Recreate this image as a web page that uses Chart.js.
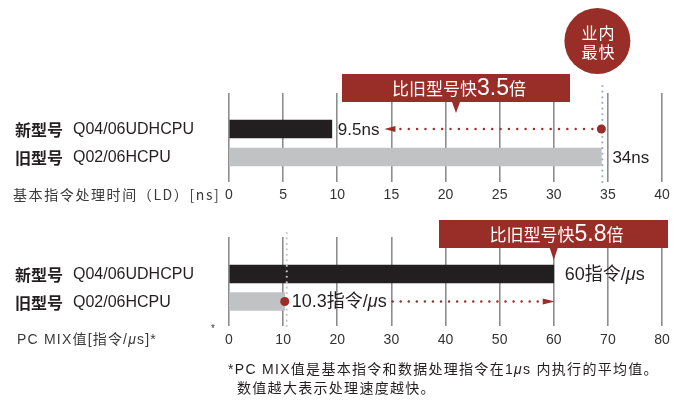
<!DOCTYPE html>
<html>
<head>
<meta charset="utf-8">
<script src="https://cdn.jsdelivr.net/npm/chart.js@4/dist/chart.umd.min.js"></script>
<style>
html, body { margin: 0; padding: 0; background: #fff; }
#wrap { position: relative; width: 677px; height: 400px; overflow: hidden; }
canvas { position: absolute; left: 0; }
</style>
</head>
<body>
<div id="wrap">
    <canvas id="ldChart" width="677" height="212" style="top:0"></canvas>
    <canvas id="mixChart" width="677" height="188" style="top:212px"></canvas>
</div>
<script>
// data
const rowTypes = ['新型号', '旧型号'];
const rowModels = ['Q04/06UDHCPU', 'Q02/06HCPU'];

const ldValues = [9.5, 34.4];
const ldValueLabels = ['9.5ns', '34ns'];
const ldTitle = '基本指令处理时间（LD）[ns]';
const ldRatio = '3.5';

const mixValues = [60, 10.3];
const mixValueLabels = ['60指令/', '10.3指令/'];
const mixRatio = '5.8';

const LAT = '"Liberation Sans", "Noto Sans CJK SC", sans-serif';
const CJK = '"Noto Sans CJK SC", sans-serif';
const RED = '#982e27';
const BAR_COLORS = ['#231f20', '#c1c2c4'];

Chart.defaults.font.family = LAT;

function dots(ctx, x1, y1, x2, y2, gap, r, color) {
    const len = Math.hypot(x2 - x1, y2 - y1);
    const n = Math.max(1, Math.round(len / gap));
    ctx.fillStyle = color;
    for (let i = 0; i <= n; i++) {
        const t = i / n;
        ctx.beginPath();
        ctx.arc(x1 + (x2 - x1) * t, y1 + (y2 - y1) * t, r, 0, Math.PI * 2);
        ctx.fill();
    }
}

function rich(ctx, parts, x, y, align) {
    let w = 0;
    parts.forEach(p => { ctx.font = p[1]; w += ctx.measureText(p[0]).width; });
    let cx = align === 'center' ? x - w / 2 : x;
    ctx.textAlign = 'left';
    parts.forEach(p => {
        ctx.font = p[1];
        ctx.fillText(p[0], cx, y);
        cx += ctx.measureText(p[0]).width;
    });
    return cx;
}

function banner(ctx, x1, x2, y1, y2, tipX, tipY, ratio) {
    ctx.fillStyle = RED;
    ctx.fillRect(x1, y1, x2 - x1, y2 - y1);
    ctx.beginPath();
    ctx.moveTo(tipX - 4, y2);
    ctx.lineTo(tipX + 4, y2);
    ctx.lineTo(tipX, tipY);
    ctx.closePath();
    ctx.fill();
    ctx.fillStyle = '#fff';
    ctx.textBaseline = 'middle';
    rich(ctx, [
        ['比旧型号快', '17px ' + CJK],
        [ratio, '23px ' + LAT],
        ['倍', '17px ' + CJK]
    ], (x1 + x2) / 2 + 3, (y1 + y2) / 2 + 1, 'center');
}

function rowLabels(chart) {
    const ctx = chart.ctx;
    const ys = chart.scales.y;
    ctx.fillStyle = '#231f20';
    ctx.textBaseline = 'middle';
    rowTypes.forEach((t, i) => {
        const y = ys.getPixelForValue(i + 1) + 1;
        ctx.textAlign = 'left';
        ctx.font = 'bold 16px ' + CJK;
        ctx.fillText(t, 15, y);
        ctx.font = '16px ' + LAT;
        ctx.fillText(rowModels[i], 73, y);
    });
}

const overlay = {
    id: 'overlay',
    afterDatasetsDraw(chart) {
        const ctx = chart.ctx;
        const xs = chart.scales.x, ys = chart.scales.y;
        const area = chart.chartArea;
        ctx.save();
        rowLabels(chart);
        const y1 = ys.getPixelForValue(1), y2 = ys.getPixelForValue(2);

        if (chart.canvas.id === 'ldChart') {
            const oldX = xs.getPixelForValue(ldValues[1]);
            // dotted marker line at old model value
            dots(ctx, oldX + 1, 86, oldX + 1, area.bottom, 5.5, 1.1, '#9fb0c4');
            // circle badge
            ctx.fillStyle = RED;
            ctx.beginPath();
            ctx.arc(oldX - 4, 41, 33, 0, Math.PI * 2);
            ctx.fill();
            ctx.fillStyle = '#fff';
            ctx.textAlign = 'center';
            ctx.textBaseline = 'middle';
            ctx.font = '16px ' + CJK;
            ctx.letterSpacing = '1px';
            ctx.fillText('业内', oldX - 3, 33);
            ctx.fillText('最快', oldX - 3, 52);
            ctx.letterSpacing = '0px';

            banner(ctx, 342, 570, 74, 102, 456, 113, ldRatio);

            // value labels
            ctx.fillStyle = '#231f20';
            ctx.textBaseline = 'middle';
            ctx.font = '17px ' + LAT;
            ctx.textAlign = 'left';
            const newX = xs.getPixelForValue(ldValues[0]);
            ctx.fillText(ldValueLabels[0], newX + 6, y1 + 1);
            const lw = ctx.measureText(ldValueLabels[0]).width;
            ctx.fillText(ldValueLabels[1], oldX + 11, y2 + 1);

            // red arrow from old value back to new value
            const tip = newX + 6 + lw + 5;
            dots(ctx, oldX - 9, y1, tip + 16, y1, 8.2, 1.2, RED);
            ctx.fillStyle = RED;
            ctx.beginPath();
            ctx.moveTo(tip, y1);
            ctx.lineTo(tip + 11, y1 - 3);
            ctx.lineTo(tip + 11, y1 + 3);
            ctx.closePath();
            ctx.fill();
            ctx.beginPath();
            ctx.arc(oldX, y1, 4.5, 0, Math.PI * 2);
            ctx.fill();

            // axis title
            ctx.fillStyle = '#3a3a3a';
            ctx.font = '14px ' + CJK;
            ctx.letterSpacing = '1.6px';
            ctx.textAlign = 'left';
            ctx.fillText(ldTitle, 13, area.bottom + 13);
        } else {
            const oldX = xs.getPixelForValue(mixValues[1]);
            const newX = xs.getPixelForValue(mixValues[0]);
            dots(ctx, oldX + 2, 21, oldX + 2, area.bottom, 5.5, 1.1, '#c4c8cd');

            banner(ctx, 439, 668, 8, 36, newX, 48, mixRatio);

            ctx.fillStyle = '#231f20';
            ctx.textBaseline = 'middle';
            rich(ctx, [[mixValueLabels[0], '18px ' + LAT], ['μ', 'italic 18px ' + LAT], ['s', '18px ' + LAT]],
                newX + 11, y1 + 1);
            const end = rich(ctx, [[mixValueLabels[1], '18px ' + LAT], ['μ', 'italic 18px ' + LAT], ['s', '18px ' + LAT]],
                oldX + 7, y2 + 1);

            dots(ctx, end + 6, y2, newX - 16, y2, 8.2, 1.2, RED);
            ctx.fillStyle = RED;
            ctx.beginPath();
            ctx.moveTo(newX + 1, y2);
            ctx.lineTo(newX - 11, y2 - 3);
            ctx.lineTo(newX - 11, y2 + 3);
            ctx.closePath();
            ctx.fill();
            ctx.beginPath();
            ctx.arc(oldX, y2, 4.5, 0, Math.PI * 2);
            ctx.fill();

            // axis title + note marks
            ctx.fillStyle = '#3a3a3a';
            ctx.letterSpacing = '1.2px';
            rich(ctx, [['PC MIX值[指令/', '14px ' + LAT], ['μ', 'italic 14px ' + LAT], ['s]*', '14px ' + LAT]],
                17, area.bottom + 14);
            ctx.letterSpacing = '0px';
            ctx.font = '10px ' + LAT;
            ctx.fillText('*', 211, area.bottom + 3);

            ctx.fillStyle = '#231f20';
            ctx.letterSpacing = '1.3px';
            rich(ctx, [['*PC MIX值是基本指令和数据处理指令在1', '14px ' + LAT], ['μ', 'italic 14px ' + LAT],
                ['s 内执行的平均值。', '14px ' + LAT]], 228, 158);
            ctx.font = '14px ' + CJK;
            ctx.fillText('数值越大表示处理速度越快。', 237, 176);
        }
        ctx.restore();
    }
};

function makeChart(id, values, max, step, yMin, yMax, pad, tickPad) {
    return new Chart(document.getElementById(id), {
        type: 'bar',
        data: {
            datasets: [{
                data: values.map((v, i) => ({ x: v, y: i + 1 })),
                backgroundColor: BAR_COLORS,
                barThickness: 18
            }]
        },
        options: {
            indexAxis: 'y',
            responsive: false,
            animation: false,
            layout: { padding: pad },
            plugins: { legend: { display: false }, tooltip: { enabled: false } },
            scales: {
                x: {
                    min: 0, max: max,
                    border: { display: false },
                    grid: { color: '#8d8d8d', lineWidth: 1.6, drawTicks: false },
                    ticks: { stepSize: step, padding: tickPad, color: '#333', font: { size: 14 } },
                    afterFit: scale => { scale.height = 26; }
                },
                y: {
                    type: 'linear', reverse: true, offset: false, bounds: 'data',
                    min: yMin, max: yMax, display: false
                }
            }
        },
        plugins: [overlay]
    });
}

makeChart('ldChart', ldValues, 40, 5, -0.286, 2.893, { left: 229, right: 15, top: 93, bottom: 4 }, 5);
makeChart('mixChart', mixValues, 80, 10, -0.345, 2.891, { left: 229, right: 15, top: 25, bottom: 48 }, 6);
</script>
</body>
</html>
